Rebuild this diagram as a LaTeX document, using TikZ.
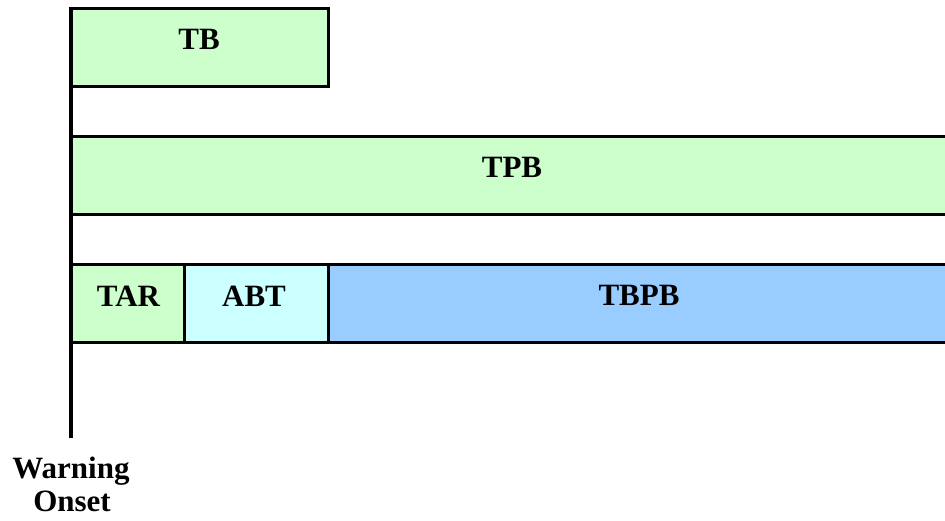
\documentclass[tikz,border=0pt]{standalone}
\usepackage{fontspec}
\setmainfont{Liberation Serif}
\definecolor{lgreen}{HTML}{CCFFCC}
\definecolor{lcyan}{HTML}{CCFFFF}
\definecolor{lblue}{HTML}{99CCFF}
\begin{document}
\begin{tikzpicture}[x=1pt,y=-1pt,
  bar/.style={draw=black,line width=3pt,inner sep=0pt,outer sep=0pt,
    minimum height=78pt,anchor=north west},
  lbl/.style={font=\fontsize{31}{33}\selectfont\bfseries,inner sep=0pt,anchor=base}]
\clip (0,0) rectangle (945,520);
\useasboundingbox (0,0) rectangle (945,520);
\node[bar,fill=lgreen,minimum width=257pt] (tb) at (71,8) {};
\node[bar,fill=lgreen,minimum width=885pt] (tpb) at (71,136) {};
\node[bar,fill=lgreen,minimum width=113pt] (tar) at (71,264) {};
\node[bar,fill=lcyan,minimum width=144pt] (abt) at (184,264) {};
\node[bar,fill=lblue,minimum width=630pt] (tbpb) at (328,264) {};
\node[lbl] (tbl) at (199,49) {TB};
\node[lbl] (tpbl) at (512,177) {TPB};
\node[lbl] (tarl) at (128.5,306) {TAR};
\node[lbl] (abtl) at (254,306) {ABT};
\node[lbl] (tbpbl) at (639,305) {TBPB};
\coordinate (top) at (71,7);
\coordinate (bot) at (71,438);
\draw[line width=4pt] (top) -- (bot);
\node[lbl] (w) at (71,478) {Warning};
\node[lbl] (o) at (72,511) {Onset};
\end{tikzpicture}
\end{document}
